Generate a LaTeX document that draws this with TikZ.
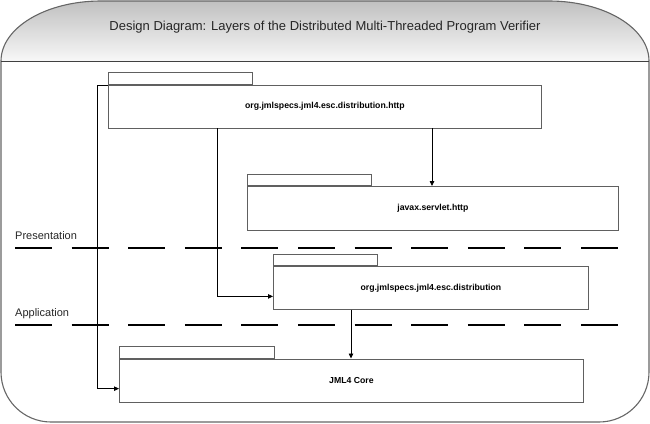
\documentclass[tikz,border=0pt]{standalone}
\usepackage{fontspec}
\setmainfont{Liberation Sans}
\usetikzlibrary{arrows.meta,calc}
\definecolor{framec}{HTML}{666666}
\definecolor{boxc}{HTML}{606060}
\begin{document}
\begin{tikzpicture}[x=1pt,y=-1pt,
  pkgbox/.style={draw=boxc,fill=white,line width=0.8pt,rectangle,inner sep=0pt,
    anchor=north west,font=\fontsize{8.7pt}{10pt}\selectfont\bfseries},
  pkgtab/.style={draw=boxc,fill=white,line width=0.8pt,rectangle,inner sep=0pt,anchor=south west},
  conn/.style={draw=black,line width=0.8pt,-{Triangle[length=5pt,width=4.5pt]}},
  layerline/.style={draw=black,line width=2pt,dash pattern=on 37pt off 19.6pt},
  layerlabel/.style={anchor=base west,font=\fontsize{11pt}{13pt}\selectfont,text=black!85,inner sep=0pt},
  titletext/.style={font=\fontsize{13pt}{15pt}\selectfont,text=black!85,inner sep=0pt}]
\useasboundingbox (0,0) rectangle (650,423);
\def\framepath{(1,61) arc[start angle=180,end angle=270,x radius=100,y radius=60] -- (549,1)
  arc[start angle=270,end angle=360,x radius=100,y radius=60] -- (649,372)
  arc[start angle=0,end angle=90,radius=50] -- (51,422)
  arc[start angle=90,end angle=180,radius=50] -- cycle}
% frame and header
\begin{scope}
  \clip \framepath;
  \shade[top color=black!25,bottom color=black!3] (0,0) rectangle (650,61);
\end{scope}
\draw[framec,line width=1.1pt] \framepath;
\draw[black!75,line width=1pt] (1,61) -- (649,61);
\node[titletext] (title) at (325,27) {Design Diagram: Layers of the Distributed Multi-Threaded Program Verifier};
% layer lines
\draw[layerline] (15,247.5) -- (618,247.5);
\draw[layerline] (15,324.5) -- (618,324.5);
\node[layerlabel] (pres) at (15,239) {Presentation};
\node[layerlabel] (appl) at (15,316.5) {Application};
% packages
\node[pkgbox,minimum width=433pt,minimum height=42.5pt] (http) at (108,85) {org.jmlspecs.jml4.esc.distribution.http};
\node[pkgtab,minimum width=144pt,minimum height=12.5pt] (httptab) at (http.north west) {};
\node[pkgbox,minimum width=371pt,minimum height=43.5pt] (servlet) at (247,186) {javax.servlet.http};
\node[pkgtab,minimum width=124pt,minimum height=11pt] (servlettab) at (servlet.north west) {};
\node[pkgbox,minimum width=315pt,minimum height=43pt] (dist) at (273,266) {org.jmlspecs.jml4.esc.distribution};
\node[pkgtab,minimum width=104pt,minimum height=11.5pt] (disttab) at (dist.north west) {};
\node[pkgbox,minimum width=464pt,minimum height=43.5pt] (core) at (119,358.5) {JML4 Core};
\node[pkgtab,minimum width=155pt,minimum height=11.5pt] (coretab) at (core.north west) {};
% connectors
\draw[conn] (http.north west) -- ++(-11,0) |- ([yshift=-8pt]core.west);
\draw[conn] ($(http.south west)+(109,0)$) |- ([yshift=-8.5pt]dist.west);
\draw[conn] ($(http.south west)+(324,0)$) -- ($(servlet.north west)+(185,0)$);
\draw[conn] ($(dist.south west)+(78,0)$) -- ($(core.north west)+(232,0)$);
\end{tikzpicture}
\end{document}
